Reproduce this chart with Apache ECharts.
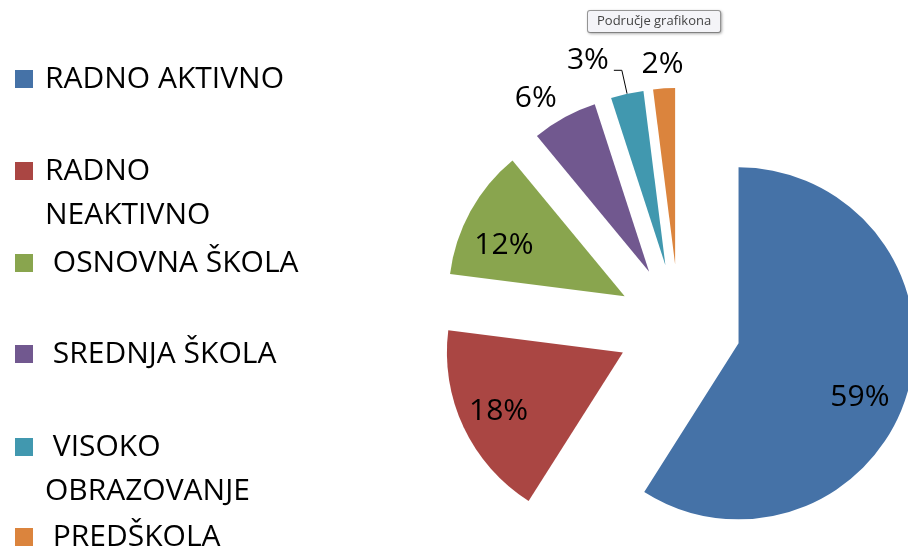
<!DOCTYPE html>
<html>
<head>
<meta charset="utf-8">
<script src="https://cdn.jsdelivr.net/npm/echarts@6/dist/echarts.min.js"></script>
<style>
  html, body { margin: 0; padding: 0; background: #fff; }
  #chart { width: 908px; height: 551px; }
</style>
</head>
<body>
<div id="chart"></div>
<script>
// data
const categories = ['RADNO AKTIVNO', 'RADNO NEAKTIVNO', 'OSNOVNA ŠKOLA', 'SREDNJA ŠKOLA', 'VISOKO OBRAZOVANJE', 'PREDŠKOLA'];
const shares = [59, 18, 12, 6, 3, 2];
const legendLabels = ['RADNO AKTIVNO', 'RADNO\nNEAKTIVNO', ' OSNOVNA ŠKOLA', ' SREDNJA ŠKOLA', ' VISOKO\nOBRAZOVANJE', ' PREDŠKOLA'];

// styling
const colors = ['#4572A7', '#AA4643', '#89A54E', '#71588F', '#4198AF', '#DB843D'];
const font = '"Open Sans", "DejaVu Sans", sans-serif';
const labelOutside = [false, false, false, true, true, true];
// nudges from the library's default label spot; null = keep default (with leader line)
const labelNudge = [[34, 29], [-42, 20], [-41, -7], [17, 2], null, [34, 0]];
const legendTop = [57, 105, 241, 332, 381, 515];

const chart = echarts.init(document.getElementById('chart'));

const pieData = categories.map((name, i) => ({
  name: name,
  value: shares[i],
  selected: true,
  label: labelNudge[i] ? { position: labelOutside[i] ? 'outside' : 'inside' }
                       : { position: 'outside', lineHeight: 20, distanceToLabelLine: 5 },
  labelLine: { show: !labelNudge[i], length: 24, length2: 8, lineStyle: { color: '#000', width: 1 } }
}));

const legends = categories.map((name, i) => {
  const twoLines = legendLabels[i].indexOf('\n') >= 0;
  return {
    data: [name],
    left: 15,
    top: legendTop[i],
    padding: 0,
    orient: 'vertical',
    icon: 'rect',
    itemWidth: 18,
    itemHeight: 18,
    selectedMode: false,
    // empty first line keeps the icon level with the first text line
    formatter: () => (twoLines ? '\n' : '') + legendLabels[i],
    textStyle: {
      fontFamily: font,
      fontSize: 30,
      color: '#000',
      lineHeight: 44,
      padding: [0, 0, 0, 7]
    }
  };
});

const options = {
  animation: false,
  color: colors,
  legend: legends,
  graphic: [{
    type: 'text',
    left: 587,
    top: 10,
    style: {
      text: 'Područje grafikona',
      font: '13px ' + font,
      fill: '#444',
      backgroundColor: '#f4f4f8',
      borderColor: '#9a9a9a',
      borderWidth: 1,
      borderRadius: 2,
      padding: [4, 9, 4, 9],
      shadowColor: 'rgba(0,0,0,0.25)',
      shadowBlur: 3,
      shadowOffsetX: 1,
      shadowOffsetY: 1
    }
  }],
  series: [{
    type: 'pie',
    center: [679, 326],
    radius: 176,
    startAngle: 90,
    clockwise: true,
    selectedMode: 'multiple',
    selectedOffset: 62,
    avoidLabelOverlap: false,
    itemStyle: { borderWidth: 0 },
    label: {
      formatter: '{c}%',
      fontFamily: font,
      fontSize: 30,
      color: '#000'
    },
    labelLayout: function (p) {
      const n = labelNudge[p.dataIndex];
      if (!n) {
        return { verticalAlign: 'bottom' };
      }
      return { dx: n[0], dy: n[1] };
    },
    emphasis: { disabled: true },
    data: pieData
  }]
};

chart.setOption(options);
</script>
</body>
</html>
